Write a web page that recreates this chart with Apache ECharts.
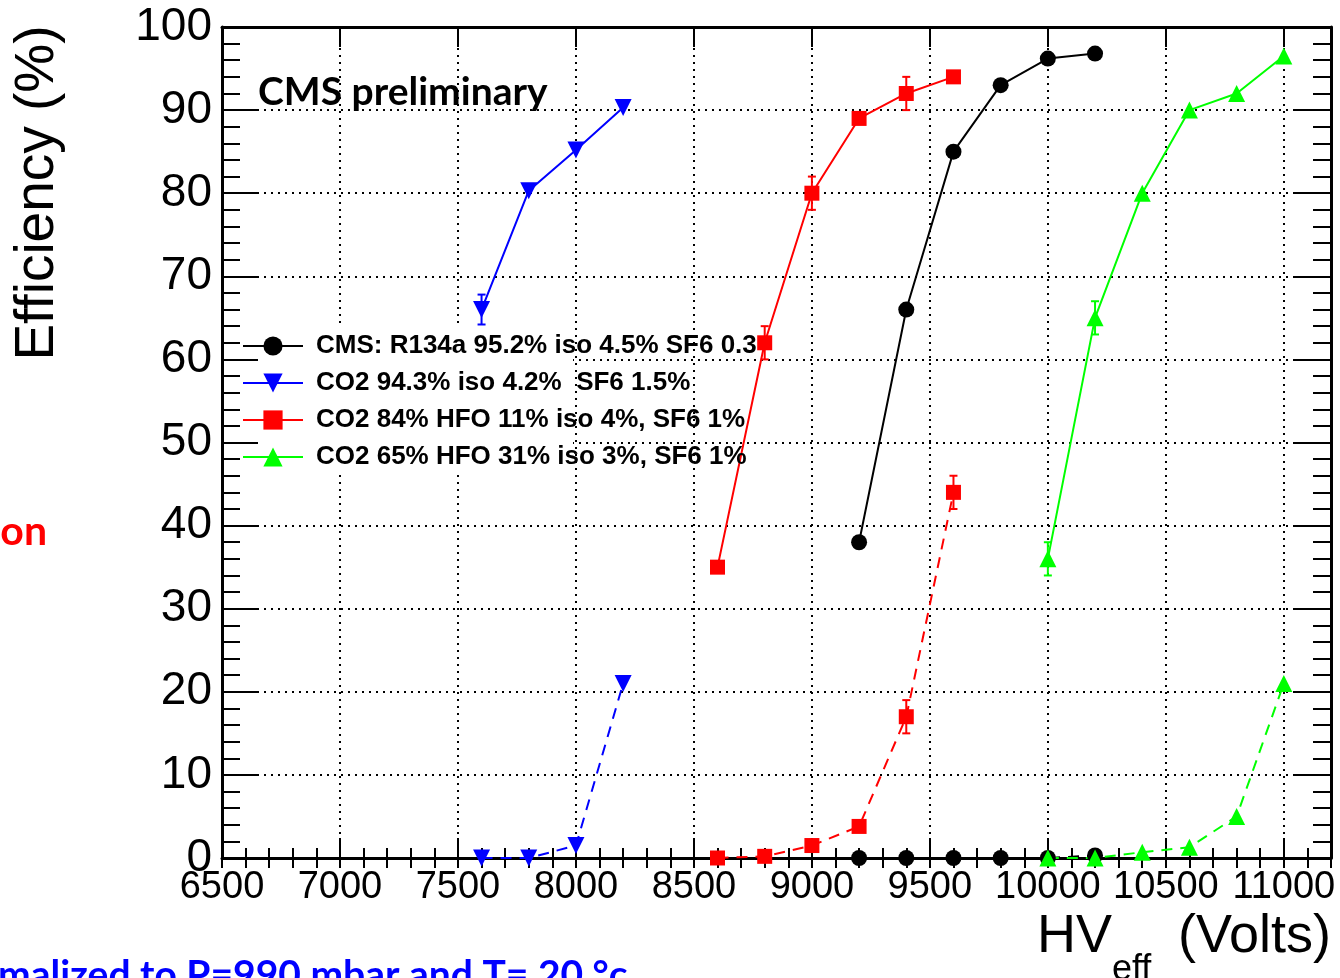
<!DOCTYPE html>
<html>
<head>
<meta charset="utf-8">
<script src="https://cdn.jsdelivr.net/npm/echarts@6/dist/echarts.min.js"></script>
<style>
html,body{margin:0;padding:0;background:#fff;}
#chart{width:1340px;height:978px;}
</style>
</head>
<body>
<div id="chart"></div>
<script>
// ---- data ----
const seriesNames = [
  'CMS: R134a 95.2% iso 4.5% SF6 0.3',
  'CO2 94.3% iso 4.2%  SF6 1.5%',
  'CO2 84% HFO 11% iso 4%, SF6 1%',
  'CO2 65% HFO 31% iso 3%, SF6 1%'
];
const xTickLabels = ['6500','7000','7500','8000','8500','9000','9500','10000','10500','11000'];
const yTickLabels = ['0','10','20','30','40','50','60','70','80','90','100'];

const hvBlack = [9200, 9400, 9600, 9800, 10000, 10200];
const effBlack = [38, 66, 85, 93, 96.2, 96.8];
const errBlack = [0, 0, 0, 0, 0, 0];
const effBlackDash = [0, 0, 0, 0, 0, 0.3];

const hvBlue = [7600, 7800, 8000, 8200];
const effBlue = [66, 80.3, 85.2, 90.3];
const errBlue = [1.8, 0, 0, 0];
const effBlueDash = [0, 0, 1.5, 21];

const hvRed = [8600, 8800, 9000, 9200, 9400, 9600];
const effRed = [35, 62, 80, 89, 92, 94];
const errRed = [0.6, 2, 2, 0, 2, 0];
const effRedDash = [0, 0.2, 1.5, 3.8, 17, 44];
const errRedDash = [0, 0, 0, 0, 2, 2];

const hvGreen = [10000, 10200, 10400, 10600, 10800, 11000];
const effGreen = [36, 65, 80, 90, 92, 96.5];
const errGreen = [2, 2, 0, 0, 0, 0];
const effGreenDash = [0, 0, 0.7, 1.3, 5, 21];

// ---- helpers ----
const pairs = (xs, ys) => xs.map((x, i) => [x, ys[i]]);
const triples = (xs, ys, es) => xs.map((x, i) => [x, ys[i], es[i]]);

const XMIN = 6500, XMAX = 11200, YMIN = 0, YMAX = 100;
const FONT = "'Liberation Sans', Arial, Helvetica, sans-serif";

function xAxisDef(o) {
  return Object.assign({
    type: 'value', min: XMIN, max: XMAX, interval: 500, position: 'bottom', z: 3,
    axisLine: { show: false, lineStyle: { color: '#000', width: 3 } },
    axisTick: { show: false },
    axisLabel: { show: false },
    splitLine: { show: false }
  }, o);
}
function yAxisDef(o) {
  return Object.assign({
    type: 'value', min: YMIN, max: YMAX, interval: 10, position: 'left', z: 3,
    axisLine: { show: false, lineStyle: { color: '#000', width: 3 } },
    axisTick: { show: false },
    axisLabel: { show: false },
    splitLine: { show: false }
  }, o);
}
const tick = (len) => ({ show: true, inside: true, length: len, lineStyle: { color: '#000', width: 2 } });
const dotted = { show: true, lineStyle: { color: '#000', width: 2, type: [2, 5] } };

const xAxes = [
  xAxisDef({ axisLine: { show: true, onZero: false, lineStyle: { color: '#000', width: 3 } }, axisTick: tick(20),
    axisLabel: { show: true, interval: 0, showMaxLabel: false, margin: 11, color: '#000', fontSize: 38, fontFamily: FONT,
      formatter: (v) => { const i = xTickLabels.indexOf(String(v)); return i >= 0 ? xTickLabels[i] : ''; } } }),
  xAxisDef({ interval: 100, axisTick: tick(10) }),
  xAxisDef({ position: 'top', axisLine: { show: true, onZero: false, lineStyle: { color: '#000', width: 3 } }, axisTick: tick(20) }),
  xAxisDef({ position: 'top', interval: 100, axisTick: tick(10) }),
  xAxisDef({ z: 0, splitLine: dotted })
];
const yAxes = [
  yAxisDef({ axisLine: { show: true, onZero: false, lineStyle: { color: '#000', width: 3 } }, axisTick: tick(36),
    axisLabel: { show: true, margin: 10, color: '#000', fontSize: 46, fontFamily: FONT,
      formatter: (v) => { const i = yTickLabels.indexOf(String(v)); return i >= 0 ? yTickLabels[i] : ''; } } }),
  yAxisDef({ interval: 2, axisTick: tick(18) }),
  yAxisDef({ position: 'right', axisLine: { show: true, onZero: false, lineStyle: { color: '#000', width: 3 } }, axisTick: tick(36) }),
  yAxisDef({ position: 'right', interval: 2, axisTick: tick(18) }),
  yAxisDef({ z: 0, splitLine: dotted })
];

function lineSeries(name, xs, ys, color, symbol, size, dashed, rotate) {
  return {
    name: name, type: 'line', xAxisIndex: 0, yAxisIndex: 0, z: 4,
    data: pairs(xs, ys),
    symbol: symbol, symbolSize: size, symbolRotate: rotate || 0, showSymbol: true,
    itemStyle: { color: color },
    lineStyle: { color: color, width: 2, type: dashed ? [11, 8] : 'solid' },
    emphasis: { disabled: true }
  };
}
function errSeries(xs, ys, es, color) {
  return {
    type: 'custom', xAxisIndex: 0, yAxisIndex: 0, z: 4,
    data: triples(xs, ys, es),
    encode: { x: 0, y: 1 },
    renderItem: function (params, api) {
      const x = api.value(0), y = api.value(1), e = api.value(2);
      if (!e) return null;
      const hi = api.coord([x, y + e]), lo = api.coord([x, y - e]);
      const cw = 4, st = { stroke: color, lineWidth: 2 };
      return { type: 'group', children: [
        { type: 'line', shape: { x1: hi[0], y1: hi[1], x2: lo[0], y2: lo[1] }, style: st },
        { type: 'line', shape: { x1: hi[0] - cw, y1: hi[1], x2: hi[0] + cw, y2: hi[1] }, style: st },
        { type: 'line', shape: { x1: lo[0] - cw, y1: lo[1], x2: lo[0] + cw, y2: lo[1] }, style: st }
      ] };
    }
  };
}

const BLACK = '#000000', BLUE = '#0000ff', RED = '#ff0000', GREEN = '#00ff00';

const chart = echarts.init(document.getElementById('chart'), null, { renderer: 'canvas' });
chart.setOption({
  animation: false,
  backgroundColor: '#fff',
  grid: { left: 222, right: 9, top: 27, bottom: 120, containLabel: false },
  xAxis: xAxes,
  yAxis: yAxes,
  legend: {
    data: seriesNames,
    orient: 'vertical', left: 242, top: 333, padding: 0, itemGap: 11,
    itemWidth: 60, itemHeight: 24, z: 5,
    textStyle: { color: '#000', fontSize: 26, fontWeight: 'bold', fontFamily: FONT, lineHeight: 26, padding: [0, 0, 0, 8] },
    selectedMode: false
  },
  series: [
    lineSeries(seriesNames[0], hvBlack, effBlack, BLACK, 'circle', 16, false),
    lineSeries(seriesNames[1], hvBlue, effBlue, BLUE, 'triangle', 17, false, 180),
    lineSeries(seriesNames[2], hvRed, effRed, RED, 'rect', 15, false),
    lineSeries(seriesNames[3], hvGreen, effGreen, GREEN, 'triangle', 17, false),
    lineSeries('black dashed', hvBlack, effBlackDash, BLACK, 'circle', 16, true),
    lineSeries('blue dashed', hvBlue, effBlueDash, BLUE, 'triangle', 17, true, 180),
    lineSeries('red dashed', hvRed, effRedDash, RED, 'rect', 15, true),
    lineSeries('green dashed', hvGreen, effGreenDash, GREEN, 'triangle', 17, true),
    errSeries(hvBlue, effBlue, errBlue, BLUE),
    errSeries(hvRed, effRed, errRed, RED),
    errSeries(hvRed, effRedDash, errRedDash, RED),
    errSeries(hvGreen, effGreen, errGreen, GREEN),
    errSeries(hvBlack, effBlack, errBlack, BLACK)
  ],
  graphic: [
    { type: 'rect', z: 1, shape: { x: 224, y: 325, width: 349, height: 150 }, style: { fill: '#fff' } },
    { type: 'text', z: 6, x: 258, y: 92,
      style: { text: 'CMS preliminary', fill: '#000', font: "bold 39px Lato, 'Open Sans', sans-serif", verticalAlign: 'middle', align: 'left' } },
    { type: 'text', z: 6, x: 38, y: 193, rotation: Math.PI / 2,
      style: { text: 'Efficiency (%)', fill: '#000', font: "55px " + FONT, verticalAlign: 'middle', align: 'center' } },
    { type: 'text', z: 6, x: 1037, y: 964,
      style: { text: 'HV', fill: '#000', font: "54px " + FONT, verticalAlign: 'bottom', align: 'left' } },
    { type: 'text', z: 6, x: 1112, y: 988,
      style: { text: 'eff', fill: '#000', font: "36px " + FONT, verticalAlign: 'bottom', align: 'left' } },
    { type: 'text', z: 6, x: 1331, y: 964,
      style: { text: '(Volts)', fill: '#000', font: "54px " + FONT, verticalAlign: 'bottom', align: 'right' } },
    { type: 'text', z: 6, x: 47, y: 532,
      style: { text: 'on', fill: '#ff0000', font: "bold 41px Lato, 'Open Sans', sans-serif", verticalAlign: 'middle', align: 'right' } },
    { type: 'text', z: 6, x: -2, y: 956,
      style: { text: 'malized to P=990 mbar and T= 20 °c', fill: '#0000ff', font: "bold 39px Lato, 'Open Sans', sans-serif", verticalAlign: 'top', align: 'left' } }
  ]
});
</script>
</body>
</html>
